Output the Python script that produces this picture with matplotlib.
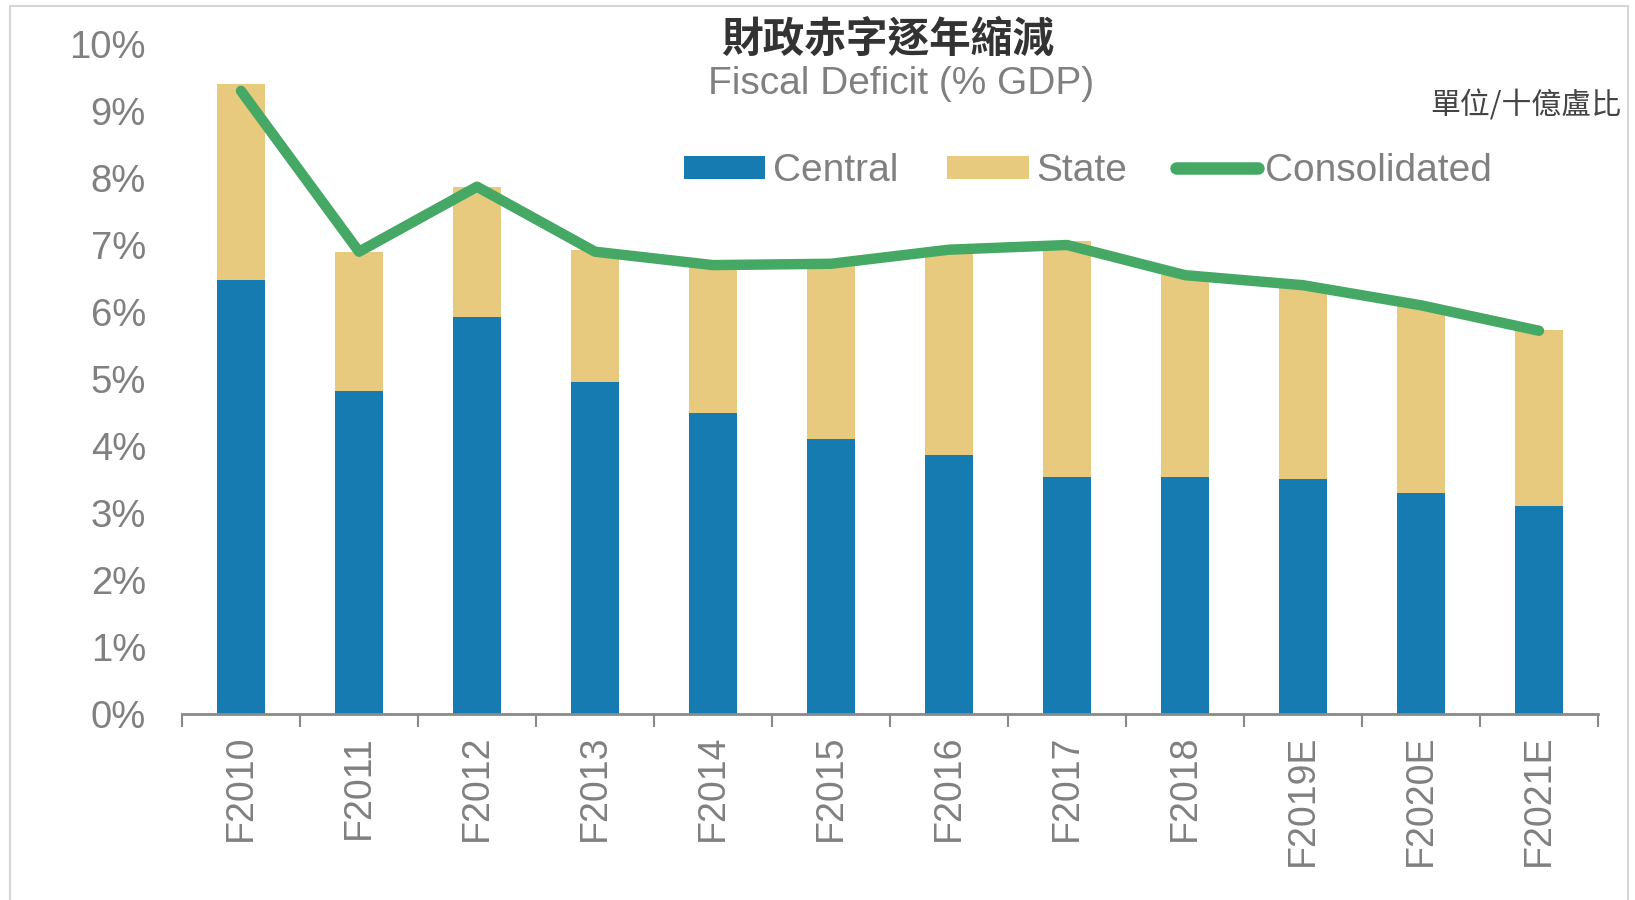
import matplotlib
matplotlib.use("Agg")
import matplotlib.pyplot as plt
from matplotlib.patches import Rectangle, Patch
from matplotlib.lines import Line2D
import numpy as np

categories = ["F2010", "F2011", "F2012", "F2013", "F2014", "F2015", "F2016",
              "F2017", "F2018", "F2019E", "F2020E", "F2021E"]
central = [6.48, 4.82, 5.93, 4.95, 4.49, 4.11, 3.87, 3.53, 3.53, 3.51, 3.30, 3.10]
state = [2.93, 2.08, 1.94, 1.98, 2.18, 2.61, 3.03, 3.53, 3.07, 2.88, 2.79, 2.63]
consolidated = [9.30, 6.90, 7.87, 6.90, 6.70, 6.72, 6.93, 7.00, 6.55, 6.40, 6.10, 5.72]
yticks = [0, 1, 2, 3, 4, 5, 6, 7, 8, 9, 10]

BLUE = "#167BB0"
TAN = "#E8CA7E"
GREEN = "#45A864"
GRAY = "#808080"

plt.rcParams['font.family'] = ['Liberation Sans', 'Noto Sans CJK TC', 'DejaVu Sans']

W, H = 1635, 900
fig = plt.figure(figsize=(W / 100, H / 100), dpi=100)
ax = fig.add_axes([182 / W, (H - 714) / H, (1598 - 182) / W, (714 - 44) / H])

x = np.arange(len(categories))
ax.bar(x, central, width=0.40, color=BLUE, zorder=2)
ax.bar(x, state, width=0.40, bottom=central, color=TAN, zorder=2)
ax.plot(x, consolidated, color=GREEN, lw=7.5, solid_capstyle='round',
        solid_joinstyle='round', zorder=3)

ax.set_xlim(-0.5, len(categories) - 0.5)
ax.set_ylim(0, 10)
ax.set_yticks(yticks)
ax.set_yticklabels([f"{v}%" for v in yticks])
ax.tick_params(axis='y', length=0, pad=26, labelsize=27.5, labelcolor=GRAY)

ax.set_xticks(x)
ax.set_xticklabels(categories, rotation=90)
ax.tick_params(axis='x', which='major', length=0, pad=15, labelsize=27, labelcolor=GRAY)
ax.set_xticks(np.arange(-0.5, len(categories), 1.0), minor=True)
ax.tick_params(axis='x', which='minor', length=9.5, width=1.5, color="#8a8a8a", direction='out')

for s in ['top', 'right', 'left']:
    ax.spines[s].set_visible(False)
ax.spines['bottom'].set_color("#8a8a8a")
ax.spines['bottom'].set_linewidth(2)

# frame around figure
fig.patches.append(Rectangle((10 / W, -0.01), (1628 - 10) / W, (H - 6) / H + 0.01,
                             transform=fig.transFigure, fill=False,
                             edgecolor="#D6D6D6", lw=1.5))

fig.text(888 / W, 1 - 40 / H, "財政赤字逐年縮減", ha='center', va='center',
         fontsize=30, color="#333333", family=['Noto Sans CJK TC'], weight='bold')
fig.text(901 / W, 1 - 84 / H, "Fiscal Deficit (% GDP)", ha='center', va='center',
         fontsize=28, color=GRAY)
fig.text(1621 / W, 1 - 106 / H, "單位/十億盧比", ha='right', va='center',
         fontsize=21.5, color="#444444", family=['Noto Sans CJK TC'])

handles = [Patch(facecolor=BLUE, label="Central"),
           Patch(facecolor=TAN, label="State"),
           Line2D([0], [0], color=GREEN, lw=9, solid_capstyle='round', label="Consolidated")]
leg = fig.legend(handles=handles, loc='center', bbox_to_anchor=(1088 / W, 1 - 171 / H),
                 ncol=3, frameon=False, fontsize=28, labelcolor=GRAY,
                 handlelength=2.1, handleheight=0.55, handletextpad=0.2, columnspacing=1.25)

fig.savefig("out.png", dpi=100)
